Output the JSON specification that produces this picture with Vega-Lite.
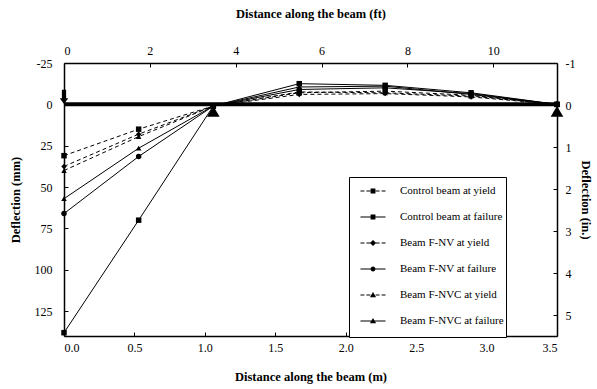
{
  "$schema": "https://vega.github.io/schema/vega-lite/v6.json",
  "width": 493,
  "height": 273,
  "autosize": {"type": "none"},
  "padding": {"left": 64, "top": 63, "right": 40, "bottom": 53},
  "background": "white",
  "config": {
    "font": "Liberation Serif",
    "view": {"stroke": null},
    "axis": {
      "labelFontSize": 12,
      "titleFontSize": 12.5,
      "titleFontWeight": "bold",
      "labelColor": "black",
      "titleColor": "black",
      "domainColor": "black",
      "domainWidth": 1.5,
      "tickColor": "black",
      "tickWidth": 1,
      "tickSize": -4,
      "grid": false
    }
  },
  "datasets": {
    "series": [
      {"x": 0, "d": 31, "s": "Control beam at yield"},
      {"x": 0.53, "d": 15, "s": "Control beam at yield"},
      {"x": 1.06, "d": 1, "s": "Control beam at yield"},
      {"x": 1.67, "d": -7, "s": "Control beam at yield"},
      {"x": 2.28, "d": -8, "s": "Control beam at yield"},
      {"x": 2.89, "d": -5.5, "s": "Control beam at yield"},
      {"x": 3.5, "d": 0, "s": "Control beam at yield"},
      {"x": 0, "d": 138, "s": "Control beam at failure"},
      {"x": 0.53, "d": 70, "s": "Control beam at failure"},
      {"x": 1.06, "d": 1, "s": "Control beam at failure"},
      {"x": 1.67, "d": -12.5, "s": "Control beam at failure"},
      {"x": 2.28, "d": -11.5, "s": "Control beam at failure"},
      {"x": 2.89, "d": -7, "s": "Control beam at failure"},
      {"x": 3.5, "d": 0, "s": "Control beam at failure"},
      {"x": 0, "d": 37.5, "s": "Beam F-NV at yield"},
      {"x": 0.53, "d": 18, "s": "Beam F-NV at yield"},
      {"x": 1.06, "d": 1, "s": "Beam F-NV at yield"},
      {"x": 1.67, "d": -6, "s": "Beam F-NV at yield"},
      {"x": 2.28, "d": -6.5, "s": "Beam F-NV at yield"},
      {"x": 2.89, "d": -4.5, "s": "Beam F-NV at yield"},
      {"x": 3.5, "d": 0, "s": "Beam F-NV at yield"},
      {"x": 0, "d": 66, "s": "Beam F-NV at failure"},
      {"x": 0.53, "d": 31.5, "s": "Beam F-NV at failure"},
      {"x": 1.06, "d": 1, "s": "Beam F-NV at failure"},
      {"x": 1.67, "d": -9, "s": "Beam F-NV at failure"},
      {"x": 2.28, "d": -10, "s": "Beam F-NV at failure"},
      {"x": 2.89, "d": -6.5, "s": "Beam F-NV at failure"},
      {"x": 3.5, "d": 0, "s": "Beam F-NV at failure"},
      {"x": 0, "d": 40, "s": "Beam F-NVC at yield"},
      {"x": 0.53, "d": 19.5, "s": "Beam F-NVC at yield"},
      {"x": 1.06, "d": 1, "s": "Beam F-NVC at yield"},
      {"x": 1.67, "d": -7.5, "s": "Beam F-NVC at yield"},
      {"x": 2.28, "d": -7, "s": "Beam F-NVC at yield"},
      {"x": 2.89, "d": -5, "s": "Beam F-NVC at yield"},
      {"x": 3.5, "d": 0, "s": "Beam F-NVC at yield"},
      {"x": 0, "d": 57, "s": "Beam F-NVC at failure"},
      {"x": 0.53, "d": 26.5, "s": "Beam F-NVC at failure"},
      {"x": 1.06, "d": 1, "s": "Beam F-NVC at failure"},
      {"x": 1.67, "d": -10.5, "s": "Beam F-NVC at failure"},
      {"x": 2.28, "d": -11, "s": "Beam F-NVC at failure"},
      {"x": 2.89, "d": -6, "s": "Beam F-NVC at failure"},
      {"x": 3.5, "d": 0, "s": "Beam F-NVC at failure"}
    ],
    "beam": [{"x": 0, "x2": 3.5, "d": 0}],
    "supports": [{"x": 1.06, "d": 0}, {"x": 3.5, "d": 0}],
    "load": [{"x": 0, "d": -4.5}],
    "secondary": [{"ft": 0, "inch": 0}]
  },
  "layer": [
    {
      "layer": [
        {
          "data": {"name": "beam"},
          "mark": {"type": "rule", "color": "black", "strokeWidth": 4},
          "encoding": {
            "x": {"field": "x", "type": "quantitative"},
            "x2": {"field": "x2"},
            "y": {"field": "d", "type": "quantitative"}
          }
        },
        {
          "data": {"name": "series"},
          "transform": [{"filter": {"field": "s", "oneOf": ["Control beam at yield", "Beam F-NV at yield", "Beam F-NVC at yield"]}}],
          "mark": {"type": "line", "color": "black", "strokeWidth": 1, "strokeDash": [4, 3]},
          "encoding": {
            "x": {
              "field": "x", "type": "quantitative",
              "scale": {"domain": [0, 3.5], "nice": false, "zero": false},
              "axis": {
                "title": "Distance along the beam (m)",
                "values": [0, 0.5, 1, 1.5, 2, 2.5, 3, 3.5],
                "format": ".1f",
                "labelPadding": 10,
                "titlePadding": 17
              }
            },
            "y": {
              "field": "d", "type": "quantitative",
              "scale": {"domain": [-25, 140], "reverse": true, "nice": false, "zero": false},
              "axis": {
                "title": "Deflection (mm)",
                "values": [-25, 0, 25, 50, 75, 100, 125],
                "labelExpr": "datum.value < 0 ? '-' + abs(datum.value) : datum.label",
                "labelPadding": 16,
                "titlePadding": 12
              }
            },
            "detail": {"field": "s", "type": "nominal"}
          }
        },
        {
          "data": {"name": "series"},
          "transform": [{"filter": {"field": "s", "oneOf": ["Control beam at failure", "Beam F-NV at failure", "Beam F-NVC at failure"]}}],
          "mark": {"type": "line", "color": "black", "strokeWidth": 1},
          "encoding": {
            "x": {"field": "x", "type": "quantitative"},
            "y": {"field": "d", "type": "quantitative"},
            "detail": {"field": "s", "type": "nominal"}
          }
        },
        {
          "data": {"name": "series"},
          "transform": [{"filter": {"field": "s", "oneOf": ["Control beam at yield", "Control beam at failure"]}}],
          "mark": {"type": "point", "shape": "square", "filled": true, "color": "black", "opacity": 1, "size": 30},
          "encoding": {
            "x": {"field": "x", "type": "quantitative"},
            "y": {"field": "d", "type": "quantitative"}
          }
        },
        {
          "data": {"name": "series"},
          "transform": [{"filter": {"field": "s", "equal": "Beam F-NV at yield"}}],
          "mark": {"type": "point", "shape": "diamond", "filled": true, "color": "black", "opacity": 1, "size": 30},
          "encoding": {
            "x": {"field": "x", "type": "quantitative"},
            "y": {"field": "d", "type": "quantitative"}
          }
        },
        {
          "data": {"name": "series"},
          "transform": [{"filter": {"field": "s", "equal": "Beam F-NV at failure"}}],
          "mark": {"type": "point", "shape": "circle", "filled": true, "color": "black", "opacity": 1, "size": 30},
          "encoding": {
            "x": {"field": "x", "type": "quantitative"},
            "y": {"field": "d", "type": "quantitative"}
          }
        },
        {
          "data": {"name": "series"},
          "transform": [{"filter": {"field": "s", "oneOf": ["Beam F-NVC at yield", "Beam F-NVC at failure"]}}],
          "mark": {"type": "point", "shape": "triangle-up", "filled": true, "color": "black", "opacity": 1, "size": 30},
          "encoding": {
            "x": {"field": "x", "type": "quantitative"},
            "y": {"field": "d", "type": "quantitative"}
          }
        },
        {
          "data": {"name": "series"},
          "transform": [{"filter": {"field": "s", "equal": "none"}}],
          "mark": {"type": "point", "filled": true, "color": "black", "opacity": 1},
          "encoding": {
            "x": {"field": "x", "type": "quantitative"},
            "y": {"field": "d", "type": "quantitative"},
            "shape": {
              "field": "s", "type": "nominal",
              "scale": {
                "domain": ["Control beam at yield", "Control beam at failure", "Beam F-NV at yield", "Beam F-NV at failure", "Beam F-NVC at yield", "Beam F-NVC at failure"],
                "range": [
                  "M0,-1L0,-1M0,1L0,1M-0.23,-0.05H0.13V0.05H-0.23ZM0.31,-0.05H0.67V0.05H0.31ZM1.15,-0.05H1.51V0.05H1.15ZM1.69,-0.05H2.05V0.05H1.69ZM0.69,-0.22H1.13V0.22H0.69Z",
                  "M0,-1L0,-1M0,1L0,1M-0.23,-0.05H2.05V0.05H-0.23ZM0.69,-0.22H1.13V0.22H0.69Z",
                  "M0,-1L0,-1M0,1L0,1M-0.23,-0.05H0.13V0.05H-0.23ZM0.31,-0.05H0.67V0.05H0.31ZM1.15,-0.05H1.51V0.05H1.15ZM1.69,-0.05H2.05V0.05H1.69ZM0.91,-0.28L1.19,0L0.91,0.28L0.63,0Z",
                  "M0,-1L0,-1M0,1L0,1M-0.23,-0.05H2.05V0.05H-0.23ZM1.13,0A0.22,0.22,0,1,1,0.69,0A0.22,0.22,0,1,1,1.13,0Z",
                  "M0,-1L0,-1M0,1L0,1M-0.23,-0.05H0.13V0.05H-0.23ZM0.31,-0.05H0.67V0.05H0.31ZM1.15,-0.05H1.51V0.05H1.15ZM1.69,-0.05H2.05V0.05H1.69ZM0.91,-0.28L1.19,0.2H0.63Z",
                  "M0,-1L0,-1M0,1L0,1M-0.23,-0.05H2.05V0.05H-0.23ZM0.91,-0.28L1.19,0.2H0.63Z"
                ]
              },
              "legend": {
                "title": null,
                "orient": "none",
                "legendX": 285,
                "legendY": 114,
                "strokeColor": "black",
                "fillColor": "white",
                "padding": 2,
                "rowPadding": -10,
                "labelFontSize": 11,
                "labelColor": "black",
                "labelOffset": 25,
                "labelExpr": "datum.label + '           '",
                "symbolSize": 484
              }
            }
          }
        },
        {
          "data": {"name": "supports"},
          "mark": {"type": "point", "shape": "triangle-up", "filled": true, "color": "black", "opacity": 1, "size": 160, "yOffset": 7},
          "encoding": {
            "x": {"field": "x", "type": "quantitative"},
            "y": {"field": "d", "type": "quantitative"}
          }
        },
        {
          "data": {"name": "load"},
          "mark": {"type": "point", "shape": "M-0.3,-1H0.3V0.2H0.6L0,1L-0.6,0.2H-0.3Z", "filled": true, "color": "black", "opacity": 1, "size": 200},
          "encoding": {
            "x": {"field": "x", "type": "quantitative"},
            "y": {"field": "d", "type": "quantitative"}
          }
        }
      ]
    },
    {
      "data": {"name": "secondary"},
      "mark": {"type": "point", "opacity": 0},
      "encoding": {
        "x": {
          "field": "ft", "type": "quantitative",
          "scale": {"domain": [0, 11.483], "nice": false, "zero": false},
          "axis": {
            "orient": "top",
            "title": "Distance along the beam (ft)",
            "values": [0, 2, 4, 6, 8, 10],
            "labelPadding": 10,
            "titlePadding": 24
          }
        },
        "y": {
          "field": "inch", "type": "quantitative",
          "scale": {"domain": [-1, 5.5], "reverse": true, "nice": false, "zero": false},
          "axis": {
            "orient": "right",
            "title": "Deflection (in.)",
            "values": [-1, 0, 1, 2, 3, 4, 5],
            "labelExpr": "datum.value < 0 ? '-' + abs(datum.value) : datum.label",
            "labelPadding": 12,
            "titlePadding": 4
          }
        }
      }
    }
  ],
  "resolve": {"scale": {"x": "independent", "y": "independent"}}
}
